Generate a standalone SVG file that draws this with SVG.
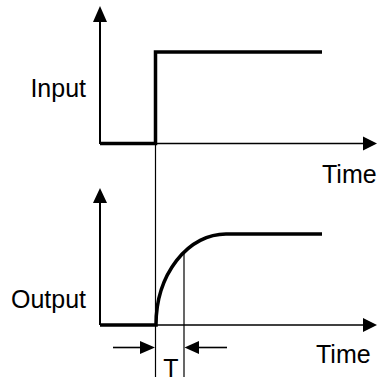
<svg xmlns="http://www.w3.org/2000/svg" width="378" height="382" viewBox="0 0 378 382">
<style>
.axis{stroke:#000;stroke-width:2;fill:none}
.thin{stroke:#000;stroke-width:1.2;fill:none}
.thick{stroke:#000;stroke-width:3.5;fill:none;stroke-linejoin:miter}
.head{fill:#000;stroke:none}
text{font-family:"Liberation Sans",Arial,sans-serif;font-size:25px;fill:#000}
</style>
<rect width="378" height="382" fill="#fff"/>
<g id="connectors">
  <line class="axis" x1="100" y1="144" x2="100" y2="20"/>
  <polygon class="head" points="100,6 93,22 107,22"/>
  <line class="thin" x1="100" y1="143.5" x2="364" y2="143.5" style="stroke-width:1.6"/>
  <polygon class="head" points="377,143.5 363,136.5 363,150.5"/>
  <line class="axis" x1="100" y1="325" x2="100" y2="201"/>
  <polygon class="head" points="100,188 93,203 107,203"/>
  <line class="thin" x1="100" y1="325" x2="364" y2="325" style="stroke-width:1.6"/>
  <polygon class="head" points="377,325 363,318 363,332"/>
  <line class="thin" x1="155.5" y1="52" x2="155.5" y2="377"/>
  <line class="thin" x1="184" y1="253" x2="184" y2="377"/>
  <line class="thin" x1="113" y1="347.5" x2="142" y2="347.5" style="stroke-width:1.6"/>
  <polygon class="head" points="155,347.5 140,341 140,354"/>
  <line class="thin" x1="197" y1="347.5" x2="227" y2="347.5" style="stroke-width:1.6"/>
  <polygon class="head" points="184.5,347.5 199,341 199,354"/>
</g>
<g id="input-signal">
  <polyline class="thick" points="100,143.5 155.5,143.5 155.5,52 322,52"/>
</g>
<g id="output-signal">
  <path class="thick" d="M100,325 H156 A70,91 0 0 1 226,234 H322"/>
</g>
<g id="labels">
  <text x="86" y="97" text-anchor="end">Input</text>
  <text x="86" y="308" text-anchor="end">Output</text>
  <text x="322" y="183">Time</text>
  <text x="316" y="363">Time</text>
  <text x="171" y="377" text-anchor="middle" font-size="23">T</text>
</g>
</svg>
